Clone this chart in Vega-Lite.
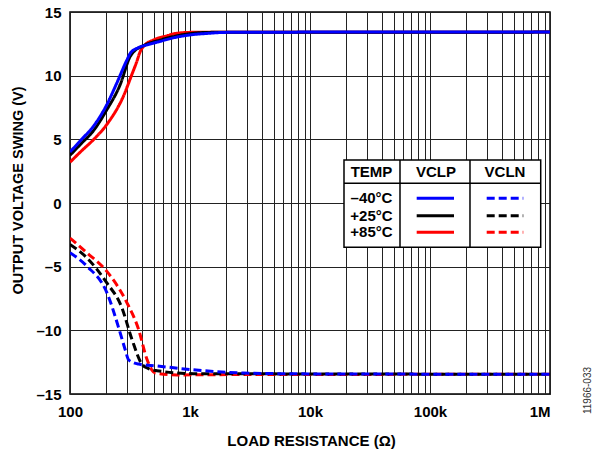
{
  "$schema": "https://vega.github.io/schema/vega-lite/v6.json",
  "width": 480,
  "height": 382,
  "autosize": {"type": "none"},
  "padding": {"left": 70, "top": 12, "right": 42, "bottom": 60},
  "background": "white",
  "config": {
    "font": "Liberation Sans",
    "view": {"stroke": "black", "strokeWidth": 1.5},
    "axis": {"labelFont": "Liberation Sans", "titleFont": "Liberation Sans"}
  },
  "datasets": {
    "curves": [
      {"R": 100, "V": 3.2, "temp": "+85", "kind": "VCLP"},
      {"R": 125, "V": 4.1, "temp": "+85", "kind": "VCLP"},
      {"R": 156, "V": 4.95, "temp": "+85", "kind": "VCLP"},
      {"R": 202, "V": 6.15, "temp": "+85", "kind": "VCLP"},
      {"R": 279, "V": 8.4, "temp": "+85", "kind": "VCLP"},
      {"R": 328, "V": 10.1, "temp": "+85", "kind": "VCLP"},
      {"R": 360, "V": 11.1, "temp": "+85", "kind": "VCLP"},
      {"R": 385, "V": 11.9, "temp": "+85", "kind": "VCLP"},
      {"R": 420, "V": 12.4, "temp": "+85", "kind": "VCLP"},
      {"R": 496, "V": 12.8, "temp": "+85", "kind": "VCLP"},
      {"R": 650, "V": 13.15, "temp": "+85", "kind": "VCLP"},
      {"R": 778, "V": 13.33, "temp": "+85", "kind": "VCLP"},
      {"R": 1000, "V": 13.4, "temp": "+85", "kind": "VCLP"},
      {"R": 1000000, "V": 13.42, "temp": "+85", "kind": "VCLP"},

      {"R": 100, "V": -2.75, "temp": "+85", "kind": "VCLN"},
      {"R": 138, "V": -3.9, "temp": "+85", "kind": "VCLN"},
      {"R": 202, "V": -5.35, "temp": "+85", "kind": "VCLN"},
      {"R": 297, "V": -7.8, "temp": "+85", "kind": "VCLN"},
      {"R": 372, "V": -9.9, "temp": "+85", "kind": "VCLN"},
      {"R": 437, "V": -12.25, "temp": "+85", "kind": "VCLN"},
      {"R": 480, "V": -13.1, "temp": "+85", "kind": "VCLN"},
      {"R": 513, "V": -13.35, "temp": "+85", "kind": "VCLN"},
      {"R": 778, "V": -13.5, "temp": "+85", "kind": "VCLN"},
      {"R": 1500, "V": -13.48, "temp": "+85", "kind": "VCLN"},
      {"R": 1000000, "V": -13.45, "temp": "+85", "kind": "VCLN"},

      {"R": 100, "V": 3.75, "temp": "+25", "kind": "VCLP"},
      {"R": 125, "V": 4.7, "temp": "+25", "kind": "VCLP"},
      {"R": 156, "V": 5.65, "temp": "+25", "kind": "VCLP"},
      {"R": 202, "V": 7.3, "temp": "+25", "kind": "VCLP"},
      {"R": 262, "V": 9.3, "temp": "+25", "kind": "VCLP"},
      {"R": 317, "V": 11.5, "temp": "+25", "kind": "VCLP"},
      {"R": 350, "V": 12.0, "temp": "+25", "kind": "VCLP"},
      {"R": 397, "V": 12.3, "temp": "+25", "kind": "VCLP"},
      {"R": 565, "V": 12.8, "temp": "+25", "kind": "VCLP"},
      {"R": 800, "V": 13.15, "temp": "+25", "kind": "VCLP"},
      {"R": 1000, "V": 13.3, "temp": "+25", "kind": "VCLP"},
      {"R": 1500, "V": 13.4, "temp": "+25", "kind": "VCLP"},
      {"R": 1000000, "V": 13.42, "temp": "+25", "kind": "VCLP"},

      {"R": 100, "V": -3.25, "temp": "+25", "kind": "VCLN"},
      {"R": 138, "V": -4.3, "temp": "+25", "kind": "VCLN"},
      {"R": 202, "V": -6.25, "temp": "+25", "kind": "VCLN"},
      {"R": 270, "V": -8.2, "temp": "+25", "kind": "VCLN"},
      {"R": 328, "V": -10.7, "temp": "+25", "kind": "VCLN"},
      {"R": 397, "V": -12.65, "temp": "+25", "kind": "VCLN"},
      {"R": 450, "V": -13.0, "temp": "+25", "kind": "VCLN"},
      {"R": 530, "V": -13.17, "temp": "+25", "kind": "VCLN"},
      {"R": 1070, "V": -13.4, "temp": "+25", "kind": "VCLN"},
      {"R": 1000000, "V": -13.45, "temp": "+25", "kind": "VCLN"},

      {"R": 100, "V": 4.0, "temp": "-40", "kind": "VCLP"},
      {"R": 125, "V": 5.0, "temp": "-40", "kind": "VCLP"},
      {"R": 156, "V": 6.0, "temp": "-40", "kind": "VCLP"},
      {"R": 202, "V": 7.7, "temp": "-40", "kind": "VCLP"},
      {"R": 245, "V": 9.4, "temp": "-40", "kind": "VCLP"},
      {"R": 297, "V": 11.2, "temp": "-40", "kind": "VCLP"},
      {"R": 320, "V": 11.8, "temp": "-40", "kind": "VCLP"},
      {"R": 372, "V": 12.2, "temp": "-40", "kind": "VCLP"},
      {"R": 450, "V": 12.45, "temp": "-40", "kind": "VCLP"},
      {"R": 565, "V": 12.7, "temp": "-40", "kind": "VCLP"},
      {"R": 750, "V": 13.0, "temp": "-40", "kind": "VCLP"},
      {"R": 1000, "V": 13.2, "temp": "-40", "kind": "VCLP"},
      {"R": 1400, "V": 13.32, "temp": "-40", "kind": "VCLP"},
      {"R": 2000, "V": 13.4, "temp": "-40", "kind": "VCLP"},
      {"R": 10000, "V": 13.42, "temp": "-40", "kind": "VCLP"},
      {"R": 1000000, "V": 13.42, "temp": "-40", "kind": "VCLP"},

      {"R": 100, "V": -3.9, "temp": "-40", "kind": "VCLN"},
      {"R": 138, "V": -4.95, "temp": "-40", "kind": "VCLN"},
      {"R": 202, "V": -7.0, "temp": "-40", "kind": "VCLN"},
      {"R": 262, "V": -10.2, "temp": "-40", "kind": "VCLN"},
      {"R": 290, "V": -11.6, "temp": "-40", "kind": "VCLN"},
      {"R": 307, "V": -12.3, "temp": "-40", "kind": "VCLN"},
      {"R": 340, "V": -12.55, "temp": "-40", "kind": "VCLN"},
      {"R": 372, "V": -12.65, "temp": "-40", "kind": "VCLN"},
      {"R": 530, "V": -12.8, "temp": "-40", "kind": "VCLN"},
      {"R": 1070, "V": -13.1, "temp": "-40", "kind": "VCLN"},
      {"R": 2800, "V": -13.35, "temp": "-40", "kind": "VCLN"},
      {"R": 10000, "V": -13.42, "temp": "-40", "kind": "VCLN"},
      {"R": 1000000, "V": -13.45, "temp": "-40", "kind": "VCLN"}
    ],
    "box": [
      {"R": 19200, "R2": 836700, "V": -3.48, "V2": 3.38}
    ],
    "rules": [
      {"R": 56230, "R2": 56230, "V": -3.48, "V2": 3.38},
      {"R": 215400, "R2": 215400, "V": -3.48, "V2": 3.38},
      {"R": 19200, "R2": 836700, "V": 1.55, "V2": 1.55}
    ],
    "labels": [
      {"R": 32540, "V": 2.46, "label": "TEMP"},
      {"R": 112200, "V": 2.46, "label": "VCLP"},
      {"R": 421700, "V": 2.46, "label": "VCLN"},
      {"R": 32540, "V": 0.37, "label": "–40°C"},
      {"R": 32540, "V": -1.0, "label": "+25°C"},
      {"R": 32540, "V": -2.3, "label": "+85°C"}
    ],
    "samples": [
      {"R": 77460, "V": 0.37, "temp": "-40", "kind": "VCLP"},
      {"R": 158500, "V": 0.37, "temp": "-40", "kind": "VCLP"},
      {"R": 77460, "V": -1.0, "temp": "+25", "kind": "VCLP"},
      {"R": 158500, "V": -1.0, "temp": "+25", "kind": "VCLP"},
      {"R": 77460, "V": -2.3, "temp": "+85", "kind": "VCLP"},
      {"R": 158500, "V": -2.3, "temp": "+85", "kind": "VCLP"},
      {"R": 296800, "V": 0.37, "temp": "-40", "kind": "VCLN"},
      {"R": 599000, "V": 0.37, "temp": "-40", "kind": "VCLN"},
      {"R": 296800, "V": -1.0, "temp": "+25", "kind": "VCLN"},
      {"R": 599000, "V": -1.0, "temp": "+25", "kind": "VCLN"},
      {"R": 296800, "V": -2.3, "temp": "+85", "kind": "VCLN"},
      {"R": 599000, "V": -2.3, "temp": "+85", "kind": "VCLN"}
    ]
  },
  "resolve": {"axis": {"y": "independent"}},
  "layer": [
    {
      "data": {"name": "curves"},
      "mark": {"type": "line", "strokeWidth": 3, "interpolate": "monotone", "clip": true},
      "encoding": {
        "x": {
          "field": "R", "type": "quantitative",
          "scale": {"type": "log", "domain": [100, 1000000], "nice": false},
          "axis": {
            "title": "LOAD RESISTANCE (Ω)",
            "titleFontSize": 15, "titleFontWeight": "bold", "titleColor": "black",
            "titleX": 241, "titleY": 46, "titleBaseline": "middle", "titleAlign": "center",
            "values": [100,200,300,400,500,600,700,800,900,1000,2000,3000,4000,5000,6000,7000,8000,9000,10000,20000,30000,40000,50000,60000,70000,80000,90000,100000,200000,300000,400000,500000,600000,700000,800000,900000,1000000],
            "labelExpr": "datum.value == 100 ? '100' : datum.value == 1000 ? '1k' : datum.value == 10000 ? '10k' : datum.value == 100000 ? '100k' : datum.value == 1000000 ? '1M' : ''",
            "labelFontSize": 15, "labelFontWeight": "bold", "labelColor": "black",
            "labelPadding": 10, "labelOverlap": false,
            "labelAlign": {"condition": {"test": "datum.value == 1000000", "value": "right"}, "value": "center"},
            "labelBound": false,
            "ticks": false, "domain": false,
            "grid": true, "gridColor": "#222", "gridWidth": 1, "gridOpacity": 1
          }
        },
        "y": {
          "field": "V", "type": "quantitative",
          "scale": {"domain": [-15, 15], "nice": false},
          "axis": {
            "title": "OUTPUT VOLTAGE SWING (V)",
            "titleFontSize": 14.5, "titleFontWeight": "bold", "titleColor": "black",
            "titleX": -52, "titleY": 178, "titleAngle": 270, "titleBaseline": "middle", "titleAlign": "center",
            "values": [-15, -10, -5, 0, 5, 10, 15],
            "labelExpr": "datum.value < 0 ? '–' + abs(datum.value) : datum.label",
            "labelFontSize": 15, "labelFontWeight": "bold", "labelColor": "black",
            "labelPadding": 9, "ticks": false, "domain": false,
            "grid": true, "gridColor": "#222", "gridWidth": 1, "gridOpacity": 1
          }
        },
        "color": {
          "field": "temp", "type": "nominal",
          "scale": {"domain": ["-40", "+25", "+85"], "range": ["#0000ff", "#000000", "#ff0000"]},
          "legend": null
        },
        "strokeDash": {
          "field": "kind", "type": "nominal",
          "scale": {"domain": ["VCLP", "VCLN"], "range": [[1, 0], [8, 4]]},
          "legend": null
        }
      }
    },
    {
      "data": {"name": "box"},
      "mark": {"type": "rect", "fill": "white", "stroke": "black", "strokeWidth": 1.5},
      "encoding": {
        "x": {"field": "R", "type": "quantitative"},
        "x2": {"field": "R2"},
        "y": {
          "field": "V", "type": "quantitative",
          "axis": {
            "orient": "right", "title": "11966-033",
            "labels": false, "ticks": false, "domain": false, "grid": false,
            "titleFontSize": 10, "titleFontWeight": "normal", "titleColor": "#333",
            "titleAngle": 270, "titleX": 37, "titleY": 378,
            "titleAlign": "center", "titleBaseline": "middle"
          }
        },
        "y2": {"field": "V2"}
      }
    },
    {
      "data": {"name": "rules"},
      "mark": {"type": "rule", "color": "black", "strokeWidth": 1.5},
      "encoding": {
        "x": {"field": "R", "type": "quantitative"},
        "x2": {"field": "R2"},
        "y": {"field": "V", "type": "quantitative", "axis": null},
        "y2": {"field": "V2"}
      }
    },
    {
      "data": {"name": "labels"},
      "mark": {"type": "text", "fontSize": 15, "fontWeight": "bold", "color": "black", "align": "center", "baseline": "middle"},
      "encoding": {
        "x": {"field": "R", "type": "quantitative"},
        "y": {"field": "V", "type": "quantitative", "axis": null},
        "text": {"field": "label", "type": "nominal"}
      }
    },
    {
      "data": {"name": "samples"},
      "mark": {"type": "line", "strokeWidth": 3},
      "encoding": {
        "x": {"field": "R", "type": "quantitative"},
        "y": {"field": "V", "type": "quantitative", "axis": null},
        "color": {"field": "temp", "type": "nominal", "legend": null},
        "strokeDash": {"field": "kind", "type": "nominal", "legend": null}
      }
    }
  ]
}
